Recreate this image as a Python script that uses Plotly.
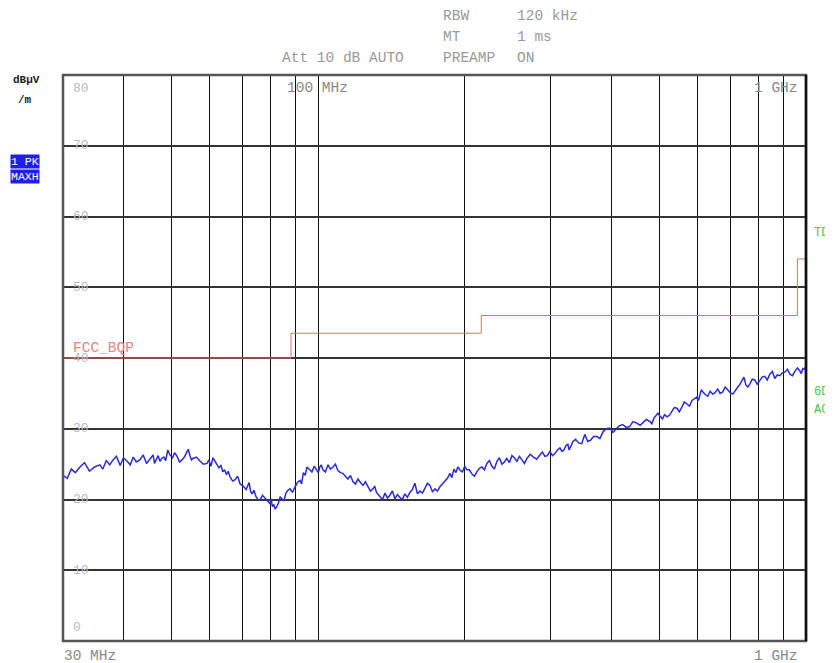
import plotly.graph_objects as go
import math

# ---- data: trace readings (main points) ----
freq_a = [30.0, 31.2, 32.5, 34.0, 35.7, 36.8, 38.0, 39.3, 40.6, 41.8, 43.1, 44.5, 45.9, 46.6, 47.4,
          48.3, 49.2, 50.3, 51.4, 52.6, 53.9, 54.6, 55.4, 57.3, 59.2, 60.3, 61.5, 62.6, 63.8, 64.9,
          66.0, 67.6, 69.2, 71.2, 72.2, 73.2, 74.6, 76.0, 77.8, 79.7, 80.6, 81.6, 82.9, 84.3, 85.9,
          87.6, 89.7, 91.8, 93.3, 94.9, 97.1, 99.4, 100.8, 102.3, 104.8, 107.3, 109.8, 112.4, 115.1,
          117.9, 120.7, 123.6, 126.5, 129.5, 131.7, 133.9, 137.1, 140.3, 143.7, 147.1, 150.6, 154.2,
          157.9, 161.7, 165.6, 169.5, 173.6, 177.7, 182.0, 186.3, 189.8, 193.4, 197.6, 201.8, 206.7,
          211.6, 216.7, 221.8, 227.1, 232.5, 238.1, 243.7, 249.6, 255.5, 261.7, 267.9, 276.3, 284.8,
          291.7, 298.6, 305.8, 313, 319, 325, 329, 333, 342, 352, 362, 373, 384, 396, 408, 421, 435,
          450, 464, 479, 488, 497, 508, 519, 531, 544, 557, 570, 584, 598, 606, 615, 629, 644, 659,
          675, 691, 708, 723, 739, 753, 767, 785, 804, 823, 843, 863, 884, 905, 927, 949, 971, 985, 1000]
level_a = [23.4, 24.3, 24.6, 24.0, 24.9, 25.5, 25.6, 24.8, 25.4, 26.0, 25.6, 25.1, 26.3, 25.7, 25.4,
           26.0, 27.0, 25.9, 26.1, 25.6, 26.8, 26.2, 25.8, 25.4, 25.1, 24.7, 25.4, 24.5, 23.9, 23.5,
           23.2, 22.8, 22.2, 21.4, 22.4, 20.8, 20.4, 19.9, 20.2, 19.4, 19.0, 18.7, 19.5, 20.1, 20.9,
           21.5, 21.8, 22.7, 23.8, 24.6, 23.9, 24.2, 24.6, 24.2, 24.9, 24.6, 24.1, 23.7, 22.9,
           22.5, 22.9, 22.0, 21.8, 21.5, 21.0, 20.3, 20.9, 20.6, 20.1, 20.3, 20.8, 21.0,
           22.3, 21.2, 21.6, 22.0, 21.5, 21.8, 22.6, 23.7, 24.3, 24.6, 23.9, 24.2, 23.6,
           23.9, 24.6, 25.1, 24.7, 25.4, 25.0, 25.8, 26.2, 25.4, 25.6, 25.8, 26.0, 26.3,
           26.1, 26.8, 26.5, 27.3, 27.0, 27.8, 27.4, 28.2, 28.0, 29.2, 28.4, 28.9, 29.6, 30.1, 29.9, 30.6, 30.3,
           30.8, 30.9, 31.0, 31.5, 32.2, 31.4, 31.7, 32.4, 32.9, 33.1, 33.5, 34.0, 34.5, 34.8, 35.2, 34.6, 34.9, 35.6,
           35.2, 35.5, 34.9, 35.8, 36.8, 36.2, 36.3, 36.9, 36.8, 37.4, 37.7, 37.1, 37.5, 38.0, 37.7, 38.1, 38.2, 38.5, 38.8]

# ---- data: trace readings (in-between noise points) ----
freq_b = [30.6, 31.8, 33.2, 34.8, 36.2, 37.4, 38.6, 39.9, 41.2, 42.4, 43.8, 45.2, 46.2, 47.0, 47.8,
          48.7, 49.7, 50.8, 52.0, 53.2, 54.2, 55.0, 56.3, 58.2, 59.7, 60.9, 62.0, 63.2, 64.3, 65.4,
          66.8, 68.4, 70.2, 71.7, 72.7, 73.9, 75.3, 76.9, 78.7, 80.1, 81.1, 82.2, 83.6, 85.1, 86.7,
          88.6, 90.7, 92.5, 94.1, 96.0, 98.2, 100.1, 101.5, 103.5, 106.0, 108.5, 111.1, 113.7, 116.5,
          119.3, 122.1, 125.0, 128.0, 130.6, 132.8, 135.5, 138.7, 142.0, 145.4, 148.8, 152.4, 156.0,
          159.8, 163.6, 167.5, 171.5, 175.6, 179.8, 184.1, 188.0, 191.6, 195.5, 199.7, 204.2, 209.1,
          214.1, 219.2, 224.4, 229.8, 235.3, 240.9, 246.6, 252.5, 258.6, 264.8, 272.1, 280.5, 288.2,
          295.1, 302.2, 309.4, 316, 322, 327, 331, 337, 347, 357, 367, 378, 390, 402, 414, 428, 442,
          457, 471, 483, 492, 502, 513, 525, 537, 550, 563, 577, 591, 602, 610, 622, 636, 651, 667,
          683, 699, 715, 731, 746, 760, 776, 794, 813, 833, 853, 873, 894, 916, 938, 960, 978, 992]
level_b = [23.0, 23.8, 25.2, 24.6, 24.3, 24.9, 26.1, 25.9, 24.9, 25.3, 26.3, 25.7, 25.1, 26.2, 25.8,
           25.5, 26.3, 26.6, 25.3, 26.0, 27.1, 25.6, 26.0, 25.0, 25.6, 25.9, 25.0, 24.8, 24.2, 24.0,
           22.6, 23.3, 21.9, 21.9, 21.2, 21.3, 20.0, 20.6, 19.7, 20.1, 19.3, 18.9, 20.4, 19.8, 21.3,
           21.0, 22.4, 22.2, 23.4, 24.2, 24.7, 23.8, 24.9, 23.9, 24.3, 25.0, 23.8, 23.3, 23.4,
           22.2, 22.4, 22.5, 21.2, 21.9, 20.7, 20.0, 20.2, 21.2, 20.7, 20.0, 20.3, 21.4,
           20.8, 20.9, 22.3, 21.1, 21.2, 22.2, 23.0, 23.1, 23.8, 24.1, 24.7, 24.2, 23.3,
           24.4, 24.2, 25.5, 24.3, 25.9, 25.3, 25.2, 25.9, 26.1, 25.1, 26.4, 25.7, 26.7,
           26.2, 26.2, 27.0, 26.8, 27.6, 27.0, 27.9, 28.5, 27.9, 28.2, 28.9, 28.6, 30.0, 29.5, 30.4, 30.2, 31.0,
           30.5, 31.3, 30.7, 31.9, 31.8, 32.0, 31.9, 33.0, 32.4, 33.8, 33.2, 34.3, 34.0, 35.5, 34.8, 35.3, 35.1, 35.0,
           35.9, 35.1, 35.4, 36.2, 37.3, 35.9, 37.0, 36.3, 37.3, 36.9, 38.1, 37.6, 37.9, 38.4, 37.5, 38.6, 37.8, 38.4]

# ---- data: limit line FCC class B QP ----
limit_freq = [30, 88, 88, 216, 216, 960, 960, 1000]
limit_level = [40, 40, 43.5, 43.5, 46, 46, 54, 54]

x_grid = [40, 50, 60, 70, 80, 90, 100, 200, 300, 400, 500, 600, 700, 800, 900]
y_grid = [10, 20, 30, 40, 50, 60, 70]
y_labels = ["80", "70", "60", "50", "40", "30", "20", "10", "0"]
y_label_vals = [80, 70, 60, 50, 40, 30, 20, 10, 0]

# merge trace readings in frequency order
pts = sorted(zip(freq_a + freq_b, level_a + level_b))
trace_f = [p[0] for p in pts]
trace_v = [p[1] for p in pts]

# ---- geometry (page pixels; page body has 8px margin) ----
OFF = 8
L, R, T, B = 63, 806, 75, 641
W, H = 833 - OFF, 663 - OFF


def px(x):
    return (x - L) / (R - L)


def py(y):
    return (B - y) / (B - T)


MONO = "Liberation Mono"

fig = go.Figure()
fig.add_trace(go.Scatter(x=limit_freq, y=limit_level, mode="lines",
                         line=dict(color="#e66a66", width=1), hoverinfo="skip"))
fig.add_trace(go.Scatter(x=trace_f, y=trace_v, mode="lines",
                         line=dict(color="#2a2ad8", width=1.5), hoverinfo="skip"))

fig.update_layout(
    width=W, height=H,
    margin=dict(l=L - OFF, r=W - (R - OFF), t=T - OFF, b=H - (B - OFF)),
    paper_bgcolor="white", plot_bgcolor="white",
    showlegend=False,
    xaxis=dict(type="log", range=[math.log10(30), math.log10(1000)],
               tickvals=x_grid, showticklabels=False, ticks="",
               showgrid=True, gridcolor="#111", gridwidth=1, zeroline=False,
               showline=False),
    yaxis=dict(range=[0, 80], tickvals=y_grid, showticklabels=False, ticks="",
               showgrid=True, gridcolor="#333", gridwidth=1.5, zeroline=False,
               showline=False),
)

shapes = []
shapes.append(dict(type="line", xref="x", yref="paper", x0=2, x1=2, y0=0, y1=1,
                   line=dict(color="#000", width=2.2)))
shapes.append(dict(type="rect", xref="paper", yref="paper", x0=0, x1=1, y0=0, y1=1,
                   line=dict(color="#555", width=2.5)))
shapes.append(dict(type="line", xref="paper", yref="paper", x0=1, x1=1, y0=0, y1=1,
                   line=dict(color="#111", width=2.5)))
fig.update_layout(shapes=shapes)

ann = []


def text(x, y, s, color="#999", size=14.5, xanchor="left", yanchor="middle", bg=None, bold=False):
    a = dict(xref="paper", yref="paper", x=px(x), y=py(y), text=("<b>%s</b>" % s if bold else s),
             showarrow=False, xanchor=xanchor, yanchor=yanchor,
             font=dict(family=MONO, size=size, color=color))
    if bg:
        a["bgcolor"] = bg
        a["borderpad"] = 0
    ann.append(a)


# header
text(441, 16, "RBW")
text(515, 16, "120 kHz")
text(441, 37, "MT")
text(515, 37, "1 ms")
text(280, 58, "Att 10 dB AUTO")
text(441, 58, "PREAMP")
text(515, 58, "ON")

# level labels inside plot
for lab, v in zip(y_labels, y_label_vals):
    ypix = B - v * (B - T) / 80
    if v == 80:
        ypix = 88
    if v == 0:
        ypix = 627
    text(71, ypix, lab, color="#bbb", size=13)

# frequency labels
text(285, 88, "100 MHz", color="#888")
text(752, 88, "1 GHz", color="#888")
text(62, 656, "30 MHz", color="#888")
text(752, 656, "1 GHz", color="#888")

# left unit label and trace boxes
text(11, 80, "dBµV", color="#222", size=11, bold=True)
text(16, 100, "/m", color="#222", size=11, bold=True)
text(10, 161, "1 PK", color="white", size=11.5, bg="#1f1fe8")
text(10, 177, "MAXH", color="white", size=11.5, bg="#1f1fe8")

# right side green labels
text(812, 233, "TDF", color="#44c844", size=12)
text(812, 392, "6DB", color="#44c844", size=12)
text(812, 410, "AC", color="#44c844", size=12)

# limit line name
text(71, 348, "FCC_BQP", color="#ee8080", size=14.5)

fig.update_layout(annotations=ann)
fig.write_html("out.html")
